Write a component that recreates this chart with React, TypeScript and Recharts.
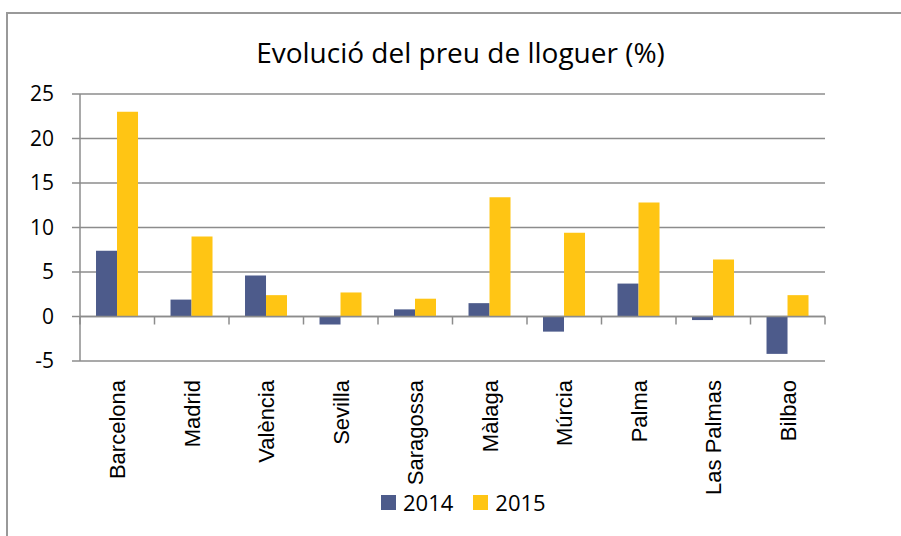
import React from 'react';
import { BarChart, Bar, XAxis, YAxis, CartesianGrid, Legend, ReferenceLine } from 'recharts';

const categories = ['Barcelona', 'Madrid', 'València', 'Sevilla', 'Saragossa', 'Màlaga', 'Múrcia', 'Palma', 'Las Palmas', 'Bilbao'];
const values2014 = [7.4, 1.9, 4.6, -0.9, 0.8, 1.5, -1.7, 3.7, -0.4, -4.2];
const values2015 = [23.0, 9.0, 2.4, 2.7, 2.0, 13.4, 9.4, 12.8, 6.4, 2.4];
const yTicks = [-5, 0, 5, 10, 15, 20, 25];
const seriesNames = ['2014', '2015'];
const title = 'Evolució del preu de lloguer (%)';

const COLORS = ['#4d5b8b', '#ffc514'];
const GRID = '#8c8c8c';

const data = categories.map((c, i) => ({ name: c, s2014: values2014[i], s2015: values2015[i] }));

const XTick = (props: any) => {
  const { x, y, payload } = props;
  return (
    <g transform={`translate(${x},${y})`}>
      <text
        transform="rotate(-90)"
        x={-19}
        y={0}
        dy="0.36em"
        textAnchor="end"
        fill="#000"
        fontFamily="'Liberation Sans', Arial, sans-serif"
        fontSize={22}
      >
        {payload.value}
      </text>
    </g>
  );
};

const ZeroLine = (props: any) => {
  const { x1, y1, x2 } = props;
  const n = categories.length;
  const ticks = [];
  for (let i = 0; i <= n; i++) {
    const tx = x1 + (i * (x2 - x1)) / n;
    ticks.push(<line key={i} x1={tx} y1={y1} x2={tx} y2={y1 + 8} stroke={GRID} strokeWidth={1.5} />);
  }
  return (
    <g>
      <line x1={x1} y1={y1} x2={x2} y2={y1} stroke={GRID} strokeWidth={1.5} />
      {ticks}
    </g>
  );
};

const LegendContent = () => (
  <div style={{ display: 'flex', alignItems: 'center', fontFamily: "'Open Sans', sans-serif", fontSize: 22, lineHeight: '22px', color: '#000' }}>
    {seriesNames.map((s, i) => (
      <div key={s} style={{ display: 'flex', alignItems: 'center', marginRight: i === 0 ? 20 : 0 }}>
        <div style={{ width: 15, height: 15, background: COLORS[i], marginRight: 7 }} />
        <span>{s}</span>
      </div>
    ))}
  </div>
);

export default function App() {
  return (
    <div style={{ position: 'absolute', left: 0, top: 0, width: 901, height: 536, overflow: 'hidden', background: '#fff' }}>
      <div style={{ position: 'absolute', left: 6, top: 12, width: 1000, height: 1000, border: `2px solid #999`, boxSizing: 'border-box' }} />
      <div
        style={{
          position: 'absolute',
          left: 0,
          width: 921,
          top: 38,
          textAlign: 'center',
          fontFamily: "'Open Sans', sans-serif",
          fontSize: 28,
          lineHeight: '28px',
          color: '#000',
        }}
      >
        {title}
      </div>
      <div style={{ position: 'absolute', left: 0, top: 0 }}>
        <BarChart
          width={901}
          height={536}
          data={data}
          margin={{ top: 94, right: 76, bottom: 0, left: 0 }}
          barCategoryGap="21.5%"
          barGap={0}
        >
          <CartesianGrid vertical={false} stroke={GRID} strokeWidth={1.5} />
          <XAxis
            dataKey="name"
            height={175}
            axisLine={false}
            tickLine={false}
            tickSize={0}
            tickMargin={0}
            interval={0}
            tick={<XTick />}
          />
          <YAxis
            width={80}
            domain={[-5, 25]}
            ticks={yTicks}
            interval={0}
            axisLine={{ stroke: GRID, strokeWidth: 1.5 }}
            tickLine={{ stroke: GRID, strokeWidth: 1.5 }}
            tickSize={8}
            tickMargin={18}
            tick={{ fill: '#000', fontFamily: "'Open Sans', sans-serif", fontSize: 21 }}
          />
          <Bar dataKey="s2014" name={seriesNames[0]} fill={COLORS[0]} isAnimationActive={false} />
          <Bar dataKey="s2015" name={seriesNames[1]} fill={COLORS[1]} isAnimationActive={false} />
          <ReferenceLine y={0} shape={<ZeroLine />} />
          <Legend
            layout="horizontal"
            verticalAlign="middle"
            align="center"
            content={<LegendContent />}
            wrapperStyle={{ top: 491, left: 381, width: 250 }}
          />
        </BarChart>
      </div>
    </div>
  );
}
